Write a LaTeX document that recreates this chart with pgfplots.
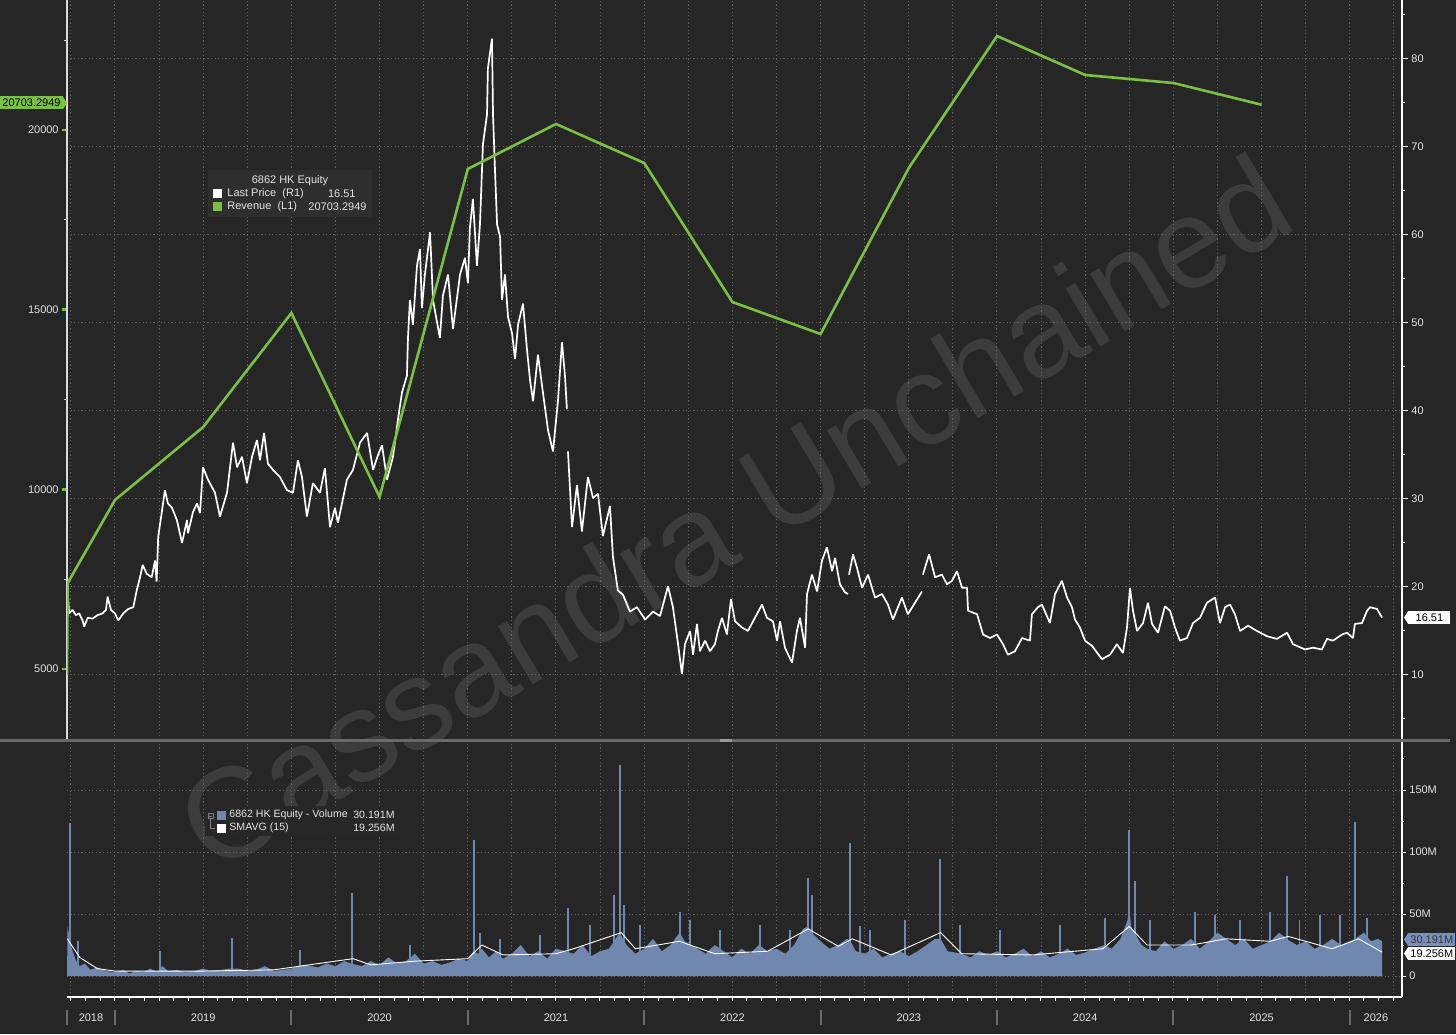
\documentclass[border=0pt]{standalone}
\usepackage{pgfplots}
\pgfplotsset{compat=1.18}
\usepackage{fontspec}
\setmainfont{Liberation Sans}
\setsansfont{Liberation Sans}
\definecolor{bg}{RGB}{38,38,38}
\definecolor{gridc}{RGB}{98,98,98}
\definecolor{revgreen}{RGB}{122,193,66}
\definecolor{volblue}{RGB}{112,136,176}
\definecolor{vollab}{RGB}{122,146,187}
\definecolor{txt}{RGB}{228,228,228}
\definecolor{wm}{RGB}{60,60,60}
\definecolor{sepc}{RGB}{105,105,105}
\definecolor{legbg}{RGB}{46,46,46}
\newcommand{\fs}{\fontsize{5.5pt}{6.5pt}\selectfont}
\newcommand{\fsl}{\fontsize{5.3pt}{6.3pt}\selectfont}
\pgfplotsset{
  base/.style={scale only axis, width=667.5pt, xmin=2018.728, xmax=2026.296,
    anchor=south west, /pgf/number format/assume math mode=true},
  gridaxis/.style={base, axis line style={draw=none}, major tick length=0pt,
    xtick={2018.75,2019,...,2026.25}, xticklabels={}, yticklabels={},
    xmajorgrids, ymajorgrids,
    major grid style={gridc, line width=0.5pt, dash pattern=on 0.6pt off 1.2pt}},
}
\begin{document}
\begin{tikzpicture}
\useasboundingbox (0pt,0pt) rectangle (728pt,517pt);
\begin{scope}[x=1pt,y=1pt]
\fill[bg] (0,0) rectangle (728,517);
\node[rotate=30.8, text=wm, font=\fontsize{64pt}{70pt}\selectfont] at (367,261) {Cassandra Unchained};
\end{scope}

% grids
\begin{axis}[gridaxis, at={(33.5pt,147pt)}, height=370pt, ymin=2.61, ymax=86.70, ytick={10,20,...,80}]
\addplot[draw=none] coordinates {(2019,10)};
\end{axis}
\begin{axis}[gridaxis, at={(33.5pt,18.5pt)}, height=127.5pt, ymin=-16.9, ymax=188.7, ytick={0,50,100,150}]
\addplot[draw=none] coordinates {(2019,10)};
\end{axis}

% price (right axis)
\begin{axis}[base, at={(33.5pt,147pt)}, height=370pt, ymin=2.61, ymax=86.70,
  axis x line=none, axis y line*=right,
  y axis line style={white, line width=0.6pt},
  ytick={10,20,...,80}, minor ytick={5,15,...,85},
  tick align=outside, major tick length=3pt, minor tick length=1.5pt,
  tick style={white, line width=0.5pt},
  yticklabel style={text=txt, font=\fs, inner xsep=1.5pt},
  unbounded coords=jump]
\addplot[white, line width=0.85pt, line join=bevel] coordinates {
(2018.734,18.9)(2018.740,17.0)(2018.759,17.4)(2018.778,16.8)(2018.797,17.0)(2018.816,16.2)
(2018.826,15.5)(2018.845,16.5)(2018.873,16.4)(2018.901,16.8)(2018.930,17.0)(2018.949,17.4)
(2018.958,18.9)(2018.977,17.4)(2019.000,17.0)(2019.019,16.2)(2019.047,17.0)(2019.075,17.5)
(2019.104,17.7)(2019.123,19.6)(2019.142,21.1)(2019.157,22.5)(2019.180,21.5)(2019.208,21.1)
(2019.227,23.0)(2019.236,20.6)(2019.245,25.7)(2019.264,28.3)(2019.283,31.0)(2019.300,29.5)
(2019.323,29.0)(2019.351,27.6)(2019.380,25.0)(2019.408,27.6)(2019.414,26.1)(2019.442,28.5)
(2019.465,29.5)(2019.482,28.4)(2019.499,33.6)(2019.527,32.2)(2019.567,30.7)(2019.595,28.0)
(2019.635,30.7)(2019.669,36.4)(2019.692,33.6)(2019.720,34.8)(2019.748,31.8)(2019.777,34.8)
(2019.805,36.7)(2019.822,34.4)(2019.845,37.5)(2019.867,34.0)(2019.896,33.3)(2019.935,32.5)
(2019.975,31.0)(2020.009,30.7)(2020.037,34.4)(2020.060,32.5)(2020.088,28.0)(2020.122,31.8)
(2020.162,30.7)(2020.190,33.5)(2020.219,26.8)(2020.247,29.0)(2020.264,27.3)(2020.315,32.2)
(2020.349,33.3)(2020.389,36.4)(2020.429,37.5)(2020.463,33.3)(2020.491,35.0)(2020.514,36.1)
(2020.542,32.2)(2020.576,34.8)(2020.604,39.0)(2020.627,42.1)(2020.655,44.0)(2020.661,48.3)
(2020.672,52.6)(2020.689,49.8)(2020.712,56.5)(2020.729,58.4)(2020.740,51.7)(2020.757,55.5)
(2020.786,60.3)(2020.803,52.6)(2020.842,48.3)(2020.859,53.1)(2020.888,55.5)(2020.916,49.3)
(2020.956,55.5)(2020.984,57.4)(2021.001,54.5)(2021.012,60.8)(2021.029,64.1)(2021.052,56.5)
(2021.069,61.2)(2021.086,70.3)(2021.109,73.7)(2021.114,78.9)(2021.137,82.3)(2021.143,73.7)
(2021.154,67.5)(2021.166,61.2)(2021.183,59.8)(2021.194,52.6)(2021.211,55.5)(2021.228,50.7)
(2021.251,48.8)(2021.268,45.9)(2021.285,49.8)(2021.313,52.2)(2021.336,46.9)(2021.353,43.5)
(2021.370,41.1)(2021.398,46.4)(2021.426,42.1)(2021.455,37.8)(2021.483,35.4)(2021.511,41.1)
(2021.534,47.8)(2021.551,44.0)(2021.562,40.2)(2021.565,nan)
(2021.568,35.4)(2021.591,26.8)(2021.619,31.6)(2021.647,26.3)(2021.681,32.5)(2021.710,30.1)
(2021.738,30.6)(2021.766,25.8)(2021.806,29.2)(2021.823,23.4)(2021.851,19.6)(2021.880,19.1)
(2021.919,17.2)(2021.959,17.7)(2022.005,16.3)(2022.050,17.2)(2022.090,16.7)(2022.135,20.1)
(2022.163,17.7)(2022.192,13.5)(2022.214,10.1)(2022.231,13.5)(2022.260,15.0)(2022.277,12.3)
(2022.299,15.8)(2022.316,12.7)(2022.345,13.9)(2022.373,12.7)(2022.401,13.5)(2022.418,15.0)
(2022.441,16.5)(2022.469,14.6)(2022.492,18.6)(2022.515,16.1)(2022.554,15.4)(2022.588,15.0)
(2022.628,16.5)(2022.668,18.0)(2022.696,16.5)(2022.730,16.1)(2022.753,13.9)(2022.770,16.1)
(2022.798,13.1)(2022.838,11.4)(2022.866,15.0)(2022.883,16.5)(2022.912,13.1)(2022.923,19.2)
(2022.951,21.4)(2022.980,19.5)(2023.008,23.0)(2023.036,24.5)(2023.065,21.8)(2023.082,23.3)
(2023.110,20.3)(2023.138,19.4)(2023.155,19.2)(2023.158,nan)
(2023.161,21.4)(2023.184,23.7)(2023.206,22.2)(2023.235,19.9)(2023.269,21.4)(2023.308,18.8)
(2023.348,19.2)(2023.382,18.0)(2023.410,16.3)(2023.461,18.8)(2023.495,16.9)(2023.535,18.2)
(2023.575,19.5)(2023.578,nan)
(2023.580,21.4)(2023.615,23.7)(2023.649,21.1)(2023.688,21.4)(2023.717,20.3)(2023.745,20.7)
(2023.773,21.8)(2023.802,19.9)(2023.830,19.9)(2023.836,17.3)(2023.887,16.9)(2023.921,14.6)
(2023.960,14.2)(2024.000,14.6)(2024.034,13.5)(2024.062,12.3)(2024.102,12.7)(2024.142,14.2)
(2024.187,13.9)(2024.198,16.9)(2024.232,17.7)(2024.255,18.0)(2024.300,15.9)(2024.329,19.2)
(2024.368,20.7)(2024.397,18.8)(2024.425,17.7)(2024.442,16.3)(2024.470,15.4)(2024.499,13.9)
(2024.539,13.3)(2024.595,11.8)(2024.641,12.3)(2024.680,13.5)(2024.714,12.5)(2024.737,15.4)
(2024.754,19.9)(2024.771,17.3)(2024.794,15.0)(2024.828,15.9)(2024.856,18.2)(2024.879,15.8)
(2024.913,14.8)(2024.952,17.8)(2024.981,17.3)(2025.009,15.4)(2025.037,13.9)(2025.077,14.2)
(2025.111,15.9)(2025.151,16.5)(2025.190,18.2)(2025.236,18.8)(2025.264,15.9)(2025.293,17.7)
(2025.321,18.0)(2025.349,16.9)(2025.378,15.0)(2025.423,15.6)(2025.474,15.0)(2025.531,14.4)
(2025.587,14.1)(2025.644,14.8)(2025.678,13.5)(2025.746,12.9)(2025.791,13.1)(2025.842,12.9)
(2025.871,14.1)(2025.905,13.9)(2025.956,14.6)(2025.984,14.8)(2026.018,14.2)(2026.029,15.8)
(2026.069,15.9)(2026.098,17.3)(2026.115,17.7)(2026.154,17.5)(2026.183,16.51)
};
\end{axis}

% revenue (left axis)
\begin{axis}[base, at={(33.5pt,147pt)}, height=370pt, ymin=3024, ymax=23618,
  axis x line=none, axis y line*=left,
  y axis line style={white!70!gray, line width=0.6pt},
  ytick={5000,10000,15000,20000}, minor ytick={2500,7500,...,22500},
  tick align=outside, major tick length=2.5pt, minor tick length=1.5pt,
  major tick style={revgreen, line width=1.3pt}, minor tick style={white!70!gray, line width=0.4pt},
  scaled y ticks=false, /pgf/number format/1000 sep={},
  yticklabel style={text=txt, font=\fs, inner xsep=1.5pt}]
\addplot[revgreen, line width=1.3pt] coordinates {
(2018.728,4830)(2018.732,7393)(2019.0,9703)(2019.5,11734)(2020.0,14907)(2020.5,9786)
(2021.0,18915)(2021.5,20167)(2022.0,19082)(2022.5,15213)(2023.0,14323)(2023.5,18942)
(2024.0,22616)(2024.5,21531)(2025.0,21308)(2025.5,20703.2949)
};
\end{axis}

% volume
\begin{axis}[base, at={(33.5pt,18.5pt)}, height=127.5pt, ymin=-16.9, ymax=188.7,
  axis x line*=bottom, axis y line*=right,
  axis line style={white, line width=0.6pt},
  xtick={2018.75,2018.8333333,...,2026.3}, xticklabels={},
  ytick={0,50,100,150}, yticklabels={0,50M,100M,150M}, minor ytick={25,75,125,175},
  tick align=outside, major tick length=2pt, minor tick length=1.2pt,
  tick style={white, line width=0.5pt},
  yticklabel style={text=txt, font=\fs, inner xsep=1.5pt},
  clip=false]
\addplot[draw=none, fill=volblue] coordinates {
(2018.729,0)(2018.730,40)(2018.745,30)(2018.750,25)(2018.76,20)(2018.78,12)(2018.80,8)(2018.83,10)
(2018.86,5)(2018.90,7)(2018.95,4)(2019.00,3)(2019.05,5)(2019.08,2)(2019.12,4)(2019.16,3)(2019.2,6)
(2019.24,3)(2019.27,8)(2019.30,4)(2019.35,5)(2019.40,3)(2019.45,4)(2019.50,6)(2019.55,4)(2019.60,5)
(2019.65,6)(2019.70,6)(2019.75,4)(2019.80,5)(2019.85,8)(2019.9,4)(2019.95,5)
(2020.0,6)(2020.04,8)(2020.08,9)(2020.15,7)(2020.2,10)(2020.25,8)(2020.3,12)
(2020.34,10)(2020.4,8)(2020.45,12)(2020.5,9)(2020.55,15)(2020.6,10)(2020.65,12)
(2020.7,18)(2020.75,10)(2020.8,12)(2020.85,9)(2020.9,11)(2020.95,14)(2021.0,12)(2021.03,20)
(2021.06,18)(2021.08,22)(2021.12,15)(2021.16,20)(2021.2,14)(2021.25,18)(2021.3,25)(2021.35,16)(2021.4,20)
(2021.45,14)(2021.5,22)(2021.55,20)(2021.6,18)(2021.65,25)(2021.7,16)(2021.75,20)
(2021.8,22)(2021.83,28)(2021.86,35)(2021.9,25)
(2021.95,18)(2022.0,22)(2022.05,30)(2022.1,20)(2022.15,25)(2022.2,35)(2022.23,28)
(2022.3,22)(2022.35,18)(2022.4,25)(2022.45,20)(2022.5,15)(2022.55,22)(2022.6,18)(2022.65,25)
(2022.7,20)(2022.75,22)(2022.8,18)(2022.85,25)(2022.9,38)(2022.93,40)
(2022.95,35)(2023.0,28)(2023.05,22)(2023.1,25)(2023.15,30)(2023.17,28)
(2023.2,20)(2023.25,18)(2023.3,22)(2023.35,15)(2023.4,18)(2023.45,20)(2023.5,16)(2023.55,20)(2023.6,25)
(2023.65,30)(2023.68,30)(2023.72,20)(2023.8,18)(2023.85,15)(2023.9,20)
(2023.95,17)(2024.0,20)(2024.05,15)(2024.1,18)(2024.15,22)(2024.2,16)(2024.25,20)(2024.3,15)(2024.35,18)
(2024.4,22)(2024.45,17)(2024.5,19)(2024.55,22)(2024.61,25)(2024.65,22)(2024.7,30)
(2024.74,45)(2024.75,55)(2024.76,40)(2024.78,35)(2024.82,25)(2024.85,22)(2024.9,20)(2024.95,28)
(2025.0,22)(2025.05,25)(2025.1,30)(2025.15,22)(2025.2,28)(2025.25,35)(2025.3,30)(2025.35,25)(2025.4,30)
(2025.45,22)(2025.5,25)(2025.55,28)(2025.6,35)(2025.64,30)
(2025.7,25)(2025.75,28)(2025.8,22)(2025.85,25)(2025.9,30)(2025.95,25)(2026.0,28)
(2026.03,30)(2026.08,35)(2026.12,28)(2026.16,30)(2026.183,28)(2026.184,0)
} \closedcycle;
\addplot[ycomb, volblue, line width=0.6pt] coordinates {
(2018.745,123)(2018.790,28)(2019.255,20)(2019.663,31)(2020.049,21)(2020.344,67)(2020.672,25)
(2021.035,110)(2021.069,35)(2021.183,30)(2021.409,33)(2021.568,55)(2021.693,41)(2021.829,65)
(2021.863,170)(2021.885,57)(2021.976,41)(2022.203,52)(2022.260,45)(2022.430,37)(2022.656,41)
(2022.827,37)(2022.929,79)(2022.951,65)(2023.167,107)(2023.223,40)(2023.280,37)(2023.478,45)
(2023.677,94)(2023.790,41)(2024.017,37)(2024.357,41)(2024.612,47)(2024.748,118)(2024.782,77)
(2024.867,45)(2025.122,52)(2025.236,49)(2025.378,45)(2025.548,52)(2025.644,81)(2025.717,45)
(2025.831,49)(2025.944,49)(2026.029,124)(2026.097,47)
};
\addplot[white, line width=0.45pt] coordinates {
(2018.73,30)(2018.8,15)(2018.9,6)(2019.0,4)(2019.5,4)(2019.9,5)(2020.1,9)(2020.35,14)(2020.45,9)
(2020.7,12)(2021.0,14)(2021.08,25)(2021.2,17)(2021.5,18)(2021.6,22)(2021.87,35)(2021.95,22)(2022.2,28)
(2022.4,18)(2022.7,20)(2022.93,38)(2023.1,24)(2023.18,30)(2023.4,17)(2023.68,35)(2023.8,18)(2024.2,17)
(2024.6,22)(2024.75,40)(2024.85,25)(2025.1,25)(2025.3,30)(2025.55,28)(2025.65,32)(2025.9,22)(2026.05,30)
(2026.183,19.256)
};
\pgfplotsinvokeforeach{2018.728,2019,2020,2021,2022,2023,2024,2025,2026}{
  \draw[sepc, line width=1pt] (axis cs:#1,-27.4) -- (axis cs:#1,-39.5);
}
\node[text=txt, font=\fs] at (axis cs:2018.864,-33.9) {2018};
\node[text=txt, font=\fs] at (axis cs:2019.5,-33.9) {2019};
\node[text=txt, font=\fs] at (axis cs:2020.5,-33.9) {2020};
\node[text=txt, font=\fs] at (axis cs:2021.5,-33.9) {2021};
\node[text=txt, font=\fs] at (axis cs:2022.5,-33.9) {2022};
\node[text=txt, font=\fs] at (axis cs:2023.5,-33.9) {2023};
\node[text=txt, font=\fs] at (axis cs:2024.5,-33.9) {2024};
\node[text=txt, font=\fs] at (axis cs:2025.5,-33.9) {2025};
\node[text=txt, font=\fs] at (axis cs:2026.148,-33.9) {2026};
\end{axis}

\begin{scope}[x=1pt,y=1pt]
% panel separator
\fill[sepc] (0,146) rectangle (725,147.5);
\fill[gray!80!white] (360,146) rectangle (366,147.5);

% upper legend
\fill[legbg] (104,408.5) rectangle (186,432);
\node[text=txt, font=\fs] at (145,426.5) {6862 HK Equity};
\fill[white] (106.5,417.75) rectangle (111,422.25);
\node[text=txt, font=\fs, anchor=west, inner sep=0pt] at (113.5,420) {Last Price\ \ (R1)};
\node[text=txt, font=\fs, anchor=east, inner sep=0pt] at (178,420) {16.51};
\fill[revgreen] (106.5,411.25) rectangle (111,415.75);
\node[text=txt, font=\fs, anchor=west, inner sep=0pt] at (113.5,413.5) {Revenue\ \ (L1)};
\node[text=txt, font=\fs, anchor=east, inner sep=0pt] at (183.5,413.5) {20703.2949};

% lower legend
\fill[legbg!85!black] (102.5,99) rectangle (200,114);
\draw[gray, line width=0.3pt] (104,107.8) rectangle (106.6,110.4);
\draw[gray, line width=0.3pt] (104.5,109.1) -- (106.1,109.1);
\draw[gray, line width=0.3pt] (105.3,107.8) -- (105.3,103) -- (107.5,103);
\fill[volblue] (108.5,107.25) rectangle (113,111.75);
\node[text=txt, font=\fsl, anchor=west, inner sep=0pt] at (114.5,109.5) {6862 HK Equity - Volume};
\node[text=txt, font=\fsl, anchor=east, inner sep=0pt] at (197.5,109.5) {30.191M};
\fill[white] (108.5,100.75) rectangle (113,105.25);
\node[text=txt, font=\fsl, anchor=west, inner sep=0pt] at (114.5,103) {SMAVG (15)};
\node[text=txt, font=\fsl, anchor=east, inner sep=0pt] at (197.5,103) {19.256M};

% value tags
\node[fill=revgreen, text=black, font=\fs, anchor=east, inner xsep=1pt, inner ysep=0pt, minimum height=6.5pt] at (31.5,465.5) {20703.2949};
\fill[revgreen] (31.4,462.25) -- (33.5,465.5) -- (31.4,468.75) -- cycle;
\node[fill=white, text=black, font=\fs, anchor=west, inner xsep=1.5pt, inner ysep=0pt, minimum height=6.5pt, minimum width=21pt] at (704,208.25) {16.51};
\fill[white] (704.1,205) -- (702,208.25) -- (704.1,211.5) -- cycle;
\node[fill=vollab, text=black!80, font=\fs, anchor=west, inner xsep=1pt, inner ysep=0pt, minimum height=6.5pt, minimum width=22.5pt] at (704,47.25) {30.191M};
\fill[vollab] (704.1,44) -- (702,47.25) -- (704.1,50.5) -- cycle;
\node[fill=white, text=black, font=\fs, anchor=west, inner xsep=1pt, inner ysep=0pt, minimum height=6.5pt, minimum width=22.5pt] at (704,40.25) {19.256M};
\fill[white] (704.1,37) -- (702,40.25) -- (704.1,43.5) -- cycle;
\end{scope}
\end{tikzpicture}
\end{document}
